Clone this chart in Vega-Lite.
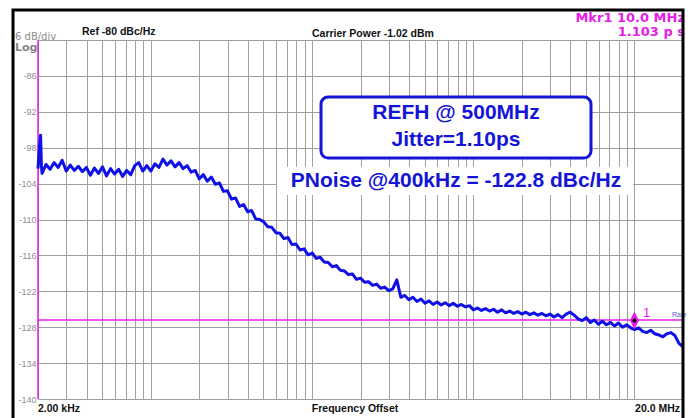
{
  "$schema": "https://vega.github.io/schema/vega-lite/v6.json",
  "width": 645,
  "height": 359,
  "autosize": {"type": "none"},
  "padding": {"left": 38, "top": 40, "right": 8, "bottom": 19},
  "background": "white",
  "config": {
    "view": {"stroke": null},
    "font": "Liberation Sans",
    "axis": {"gridColor": "#a0a0a0", "gridWidth": 1, "gridOpacity": 1}
  },
  "datasets": {
    "trace": [
      {"f": 2.000, "db": -101.5}, {"f": 2.04, "db": -97.8}, {"f": 2.075, "db": -95.9}, {"f": 2.10, "db": -101.0},
      {"f": 2.119, "db": -102.3}, {"f": 2.244, "db": -100.8}, {"f": 2.377, "db": -101.6}, {"f": 2.518, "db": -100.5},
      {"f": 2.667, "db": -101.3}, {"f": 2.825, "db": -100.1}, {"f": 2.992, "db": -101.9}, {"f": 3.170, "db": -100.9},
      {"f": 3.358, "db": -101.8}, {"f": 3.557, "db": -101.1}, {"f": 3.767, "db": -102.0}, {"f": 3.991, "db": -101.3},
      {"f": 4.227, "db": -102.6}, {"f": 4.477, "db": -101.4}, {"f": 4.743, "db": -102.3}, {"f": 5.024, "db": -101.2},
      {"f": 5.321, "db": -102.7}, {"f": 5.637, "db": -101.5}, {"f": 5.971, "db": -102.4}, {"f": 6.325, "db": -101.6},
      {"f": 6.699, "db": -102.8}, {"f": 7.096, "db": -101.8}, {"f": 7.517, "db": -102.5}, {"f": 7.962, "db": -101.0},
      {"f": 8.434, "db": -100.5}, {"f": 8.934, "db": -101.9}, {"f": 9.463, "db": -101.0}, {"f": 10.024, "db": -101.9},
      {"f": 10.618, "db": -100.7}, {"f": 11.247, "db": -101.3}, {"f": 11.913, "db": -99.9}, {"f": 12.619, "db": -100.9},
      {"f": 13.367, "db": -100.2}, {"f": 14.159, "db": -101.2}, {"f": 14.998, "db": -100.5}, {"f": 15.887, "db": -101.5},
      {"f": 16.828, "db": -101.0}, {"f": 17.825, "db": -102.1}, {"f": 18.881, "db": -101.8},
      {"f": 20.00, "db": -103.2}, {"f": 21.19, "db": -102.5}, {"f": 22.44, "db": -103.6}, {"f": 23.77, "db": -102.9},
      {"f": 25.18, "db": -104.1}, {"f": 26.67, "db": -103.9}, {"f": 28.25, "db": -105.3}, {"f": 29.92, "db": -105.2},
      {"f": 31.70, "db": -106.6}, {"f": 33.58, "db": -106.4}, {"f": 35.57, "db": -107.8}, {"f": 37.67, "db": -107.5},
      {"f": 39.91, "db": -108.7}, {"f": 42.27, "db": -108.5}, {"f": 44.77, "db": -109.9}, {"f": 47.43, "db": -110.0},
      {"f": 50.24, "db": -110.4}, {"f": 53.21, "db": -111.2}, {"f": 56.37, "db": -111.3}, {"f": 59.71, "db": -112.2},
      {"f": 63.25, "db": -112.3}, {"f": 66.99, "db": -113.2}, {"f": 70.96, "db": -113.0}, {"f": 75.17, "db": -114.2},
      {"f": 79.62, "db": -114.1}, {"f": 84.34, "db": -115.1}, {"f": 89.34, "db": -114.9}, {"f": 94.63, "db": -115.9},
      {"f": 100.24, "db": -115.6}, {"f": 106.18, "db": -116.5}, {"f": 112.47, "db": -116.3}, {"f": 119.13, "db": -117.1},
      {"f": 126.19, "db": -117.2}, {"f": 133.67, "db": -117.9}, {"f": 141.59, "db": -117.7}, {"f": 149.98, "db": -118.5},
      {"f": 158.87, "db": -118.6}, {"f": 168.28, "db": -119.2}, {"f": 178.25, "db": -119.1}, {"f": 188.81, "db": -120.0},
      {"f": 200.0, "db": -119.8}, {"f": 211.9, "db": -120.5}, {"f": 224.4, "db": -120.4}, {"f": 237.7, "db": -121.0},
      {"f": 251.8, "db": -120.8}, {"f": 266.7, "db": -121.5}, {"f": 282.5, "db": -121.3}, {"f": 299.2, "db": -121.9},
      {"f": 317.0, "db": -121.6}, {"f": 335.8, "db": -120.1}, {"f": 355.7, "db": -123.0}, {"f": 376.7, "db": -122.7},
      {"f": 399.1, "db": -123.4}, {"f": 422.7, "db": -123.0}, {"f": 447.7, "db": -123.7}, {"f": 474.3, "db": -123.3},
      {"f": 502.4, "db": -124.0}, {"f": 532.1, "db": -123.6}, {"f": 563.7, "db": -124.2}, {"f": 597.1, "db": -123.8},
      {"f": 632.5, "db": -124.3}, {"f": 669.9, "db": -123.9}, {"f": 709.6, "db": -124.4}, {"f": 751.7, "db": -124.0},
      {"f": 796.2, "db": -124.5}, {"f": 843.4, "db": -124.2}, {"f": 893.4, "db": -124.6}, {"f": 946.3, "db": -124.4},
      {"f": 1002.4, "db": -125.1}, {"f": 1061.8, "db": -124.8}, {"f": 1124.7, "db": -125.2}, {"f": 1191.3, "db": -124.9},
      {"f": 1261.9, "db": -125.3}, {"f": 1336.7, "db": -125.0}, {"f": 1415.9, "db": -125.5}, {"f": 1499.8, "db": -125.1},
      {"f": 1588.7, "db": -125.6}, {"f": 1682.8, "db": -125.3}, {"f": 1782.5, "db": -125.7}, {"f": 1888.1, "db": -125.4},
      {"f": 2000, "db": -125.8}, {"f": 2119, "db": -125.5}, {"f": 2244, "db": -125.9}, {"f": 2377, "db": -125.6},
      {"f": 2518, "db": -126.0}, {"f": 2667, "db": -125.7}, {"f": 2825, "db": -126.1}, {"f": 2992, "db": -125.8},
      {"f": 3170, "db": -126.3}, {"f": 3358, "db": -125.9}, {"f": 3557, "db": -126.4}, {"f": 3767, "db": -125.8},
      {"f": 3991, "db": -125.5}, {"f": 4227, "db": -126.0}, {"f": 4477, "db": -126.6}, {"f": 4743, "db": -126.9},
      {"f": 5024, "db": -126.4}, {"f": 5321, "db": -127.2}, {"f": 5637, "db": -126.8}, {"f": 5971, "db": -127.5},
      {"f": 6325, "db": -127.0}, {"f": 6699, "db": -127.6}, {"f": 7096, "db": -127.2}, {"f": 7517, "db": -127.8},
      {"f": 7962, "db": -127.3}, {"f": 8434, "db": -128.0}, {"f": 8934, "db": -127.6}, {"f": 9463, "db": -128.1},
      {"f": 10024, "db": -128.4}, {"f": 10618, "db": -128.1}, {"f": 11247, "db": -128.7}, {"f": 11913, "db": -128.9},
      {"f": 12619, "db": -128.5}, {"f": 13367, "db": -129.1}, {"f": 14159, "db": -129.3}, {"f": 14998, "db": -129.6},
      {"f": 15887, "db": -129.1}, {"f": 16828, "db": -128.9}, {"f": 17825, "db": -129.4}, {"f": 18881, "db": -130.7},
      {"f": 20000, "db": -131.3}
    ],
    "marker": [{"f": 10000, "db": -126.9}]
  },
  "encoding": {
    "x": {
      "field": "f",
      "type": "quantitative",
      "scale": {"type": "log", "domain": [2, 20000], "nice": false, "zero": false},
      "axis": {
        "values": [2, 3, 4, 5, 6, 7, 8, 9, 10, 20, 30, 40, 50, 60, 70, 80, 90, 100, 200, 300, 400, 500, 600, 700, 800, 900, 1000, 2000, 3000, 4000, 5000, 6000, 7000, 8000, 9000, 10000, 20000],
        "grid": true, "labels": false, "ticks": false, "domain": false, "title": null
      }
    },
    "y": {
      "field": "db",
      "type": "quantitative",
      "scale": {"domain": [-140, -80], "nice": false, "zero": false},
      "axis": {
        "values": [-80, -86, -92, -98, -104, -110, -116, -122, -128, -134, -140],
        "grid": true, "ticks": false, "domain": false, "title": null,
        "labelExpr": "datum.value == -80 ? '' : '' + datum.value",
        "labelColor": "#8e8e8e", "labelFontSize": 9, "labelPadding": 2, "labelFont": "Liberation Sans"
      }
    }
  },
  "layer": [
    {
      "data": {"values": [{"f": 2, "f2": 20000, "db": -126.8}]},
      "mark": {"type": "rule", "color": "#e81ce8", "strokeWidth": 1.5},
      "encoding": {"x2": {"field": "f2"}}
    },
    {
      "data": {"values": [{"f": 2, "db": -80, "db2": -140}]},
      "mark": {"type": "rule", "color": "#e81ce8", "strokeWidth": 1.5},
      "encoding": {"y2": {"field": "db2"}}
    },
    {
      "data": {"name": "trace"},
      "mark": {"type": "line", "color": "#1010e6", "strokeWidth": 3, "strokeJoin": "round"}
    },
    {
      "data": {"values": [{"f": 113.8, "f2": 5376, "db": -89.53, "db2": -99.72}]},
      "mark": {"type": "rect", "fill": "white", "stroke": "#1414d6", "strokeWidth": 3, "cornerRadius": 7},
      "encoding": {"x2": {"field": "f2"}, "y2": {"field": "db2"}}
    },
    {
      "data": {"values": [{"f": 60.7, "f2": 9800, "db": -101.2, "db2": -105.9}]},
      "mark": {"type": "rect", "fill": "white"},
      "encoding": {"x2": {"field": "f2"}, "y2": {"field": "db2"}}
    },
    {
      "data": {"values": [
        {"f": 782, "db": -92.2, "label": "REFH @ 500MHz"},
        {"f": 782, "db": -96.7, "label": "Jitter=1.10ps"},
        {"f": 782, "db": -103.6, "label": "PNoise @400kHz = -122.8 dBc/Hz"}
      ]},
      "mark": {"type": "text", "fontWeight": "bold", "fontSize": 21, "color": "#1414d6", "align": "center", "baseline": "middle"},
      "encoding": {"text": {"field": "label"}}
    },
    {
      "data": {"values": [
        {"f": 3.75, "db": -78.66, "label": "Ref  -80 dBc/Hz"},
        {"f": 2.0, "db": -141.7, "label": "2.00 kHz"}
      ]},
      "mark": {"type": "text", "fontWeight": "bold", "fontSize": 10.5, "color": "#111111", "align": "left", "baseline": "middle"},
      "encoding": {"text": {"field": "label"}}
    },
    {
      "data": {"values": [
        {"f": 239, "db": -79.0, "label": "Carrier Power -1.02 dBm"},
        {"f": 185, "db": -141.7, "label": "Frequency Offset"}
      ]},
      "mark": {"type": "text", "fontWeight": "bold", "fontSize": 10.5, "color": "#111111", "align": "center", "baseline": "middle"},
      "encoding": {"text": {"field": "label"}}
    },
    {
      "data": {"values": [{"f": 20000, "db": -141.7, "label": "20.0 MHz"}]},
      "mark": {"type": "text", "fontWeight": "bold", "fontSize": 10.5, "color": "#111111", "align": "right", "baseline": "middle", "dx": -3},
      "encoding": {"text": {"field": "label"}}
    },
    {
      "data": {"values": [{"f": 1.44, "db": -79.5, "label": "6 dB/div"}]},
      "mark": {"type": "text", "font": "DejaVu Sans", "fontSize": 10, "color": "#8e8e8e", "align": "left", "baseline": "middle"},
      "encoding": {"text": {"field": "label"}}
    },
    {
      "data": {"values": [{"f": 1.44, "db": -81.4, "label": "Log"}]},
      "mark": {"type": "text", "font": "DejaVu Sans", "fontWeight": "bold", "fontSize": 11, "color": "#858585", "align": "left", "baseline": "middle"},
      "encoding": {"text": {"field": "label"}}
    },
    {
      "data": {"values": [
        {"f": 20000, "db": -76.25, "label": "Mkr1 10.0 MHz"},
        {"f": 20000, "db": -78.6, "label": "1.103 p s"}
      ]},
      "mark": {"type": "text", "font": "DejaVu Sans", "fontWeight": "bold", "fontSize": 13, "color": "#e81ce8", "align": "right", "baseline": "middle", "dx": 2},
      "encoding": {"text": {"field": "label"}}
    },
    {
      "data": {"name": "marker"},
      "mark": {"type": "point", "shape": "M0,-1L0.5,0L0,1L-0.5,0Z", "size": 324, "filled": true, "color": "#e81ce8", "opacity": 1}
    },
    {
      "data": {"name": "marker"},
      "mark": {"type": "point", "shape": "circle", "size": 16, "filled": true, "color": "#000000", "opacity": 1}
    },
    {
      "data": {"values": [{"f": 11300, "db": -125.6, "label": "1"}]},
      "mark": {"type": "text", "fontSize": 13, "color": "#e81ce8", "align": "left", "baseline": "middle"},
      "encoding": {"text": {"field": "label"}}
    },
    {
      "data": {"values": [{"f": 17100, "db": -126.0, "label": "Raw"}]},
      "mark": {"type": "text", "fontSize": 7, "color": "#5a5ad2", "align": "left", "baseline": "middle"},
      "encoding": {"text": {"field": "label"}}
    },
    {
      "data": {"values": [{"f": 1.4, "f2": 20000, "db": -75, "db2": -146}]},
      "mark": {"type": "rect", "fill": null, "stroke": "#000000", "strokeWidth": 3},
      "encoding": {"x2": {"field": "f2"}, "y2": {"field": "db2"}}
    }
  ]
}
